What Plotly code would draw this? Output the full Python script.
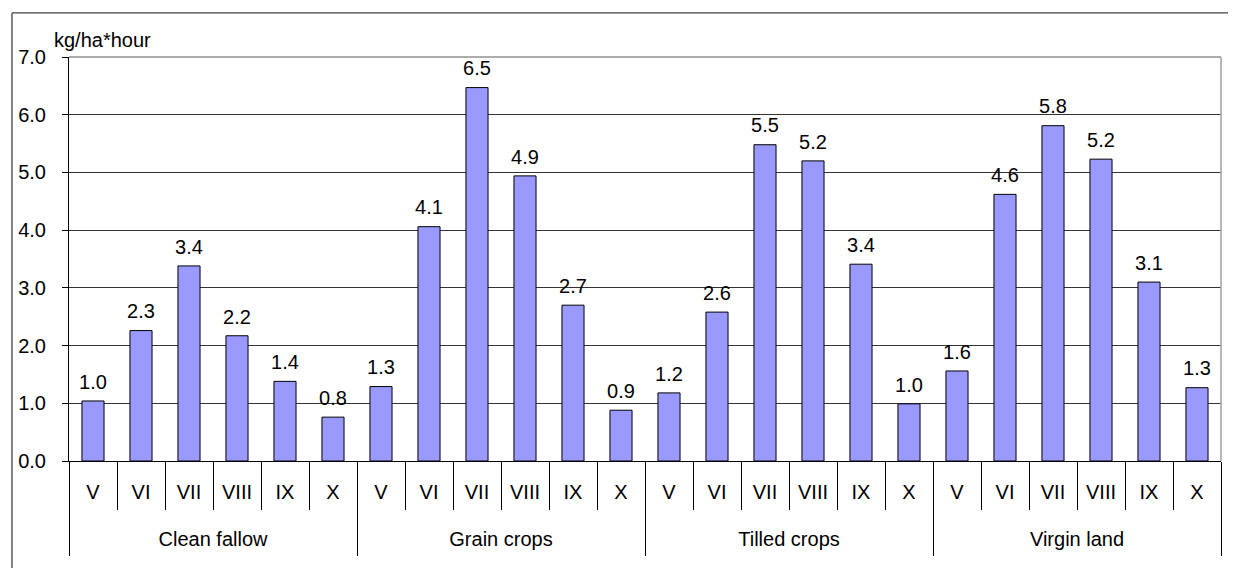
import plotly.graph_objects as go

groups = ["Clean fallow", "Grain crops", "Tilled crops", "Virgin land"]
months = ["V", "VI", "VII", "VIII", "IX", "X"]

clean_fallow = [1.04, 2.26, 3.38, 2.17, 1.38, 0.76]
grain_crops = [1.29, 4.06, 6.47, 4.94, 2.70, 0.88]
tilled_crops = [1.18, 2.58, 5.48, 5.20, 3.41, 0.99]
virgin_land = [1.56, 4.62, 5.81, 5.23, 3.10, 1.27]

y_ticks = [0, 1, 2, 3, 4, 5, 6, 7]
unit_label = "kg/ha*hour"

values = clean_fallow + grain_crops + tilled_crops + virgin_land
n_m = len(months)
xs = list(range(len(values)))
month_text = months * len(groups)
group_centers = [g * n_m + (n_m - 1) / 2 for g in range(len(groups))]
month_bounds = [i - 0.5 for i in range(len(values) + 1)]
group_bounds = [g * n_m - 0.5 for g in range(len(groups) + 1)]

FONT = "Liberation Sans, Arial, sans-serif"
FS = 20

fig = go.Figure()
fig.add_trace(go.Bar(
    x=xs, y=values, width=0.46,
    marker=dict(color="#9999FF", line=dict(color="#000000", width=1)),
    hoverinfo="skip", showlegend=False,
))
fig.add_trace(go.Scatter(
    x=xs, y=values, mode="markers+text",
    text=[f"{v:.1f}" for v in values], textposition="top center",
    textfont=dict(family=FONT, size=FS, color="#000000"),
    marker=dict(size=10, color="rgba(0,0,0,0)"),
    hoverinfo="skip", showlegend=False,
))
fig.add_trace(go.Scatter(
    x=group_centers, y=[None] * len(groups), xaxis="x2", mode="markers",
    hoverinfo="skip", showlegend=False,
))

fig.update_layout(
    width=1228, height=560,
    margin=dict(l=61, r=15, t=49, b=107),
    paper_bgcolor="white", plot_bgcolor="white",
    font=dict(family=FONT, size=FS, color="#000000"),
    bargap=0.54,
    xaxis=dict(
        range=[-0.5, len(values) - 0.5], automargin=False,
        tickmode="array", tickvals=xs, ticktext=month_text,
        ticks="", showgrid=False, zeroline=False,
        showline=True, linecolor="#000000", linewidth=1,
        ticklabelstandoff=13,
        tickfont=dict(family=FONT, size=FS),
        minor=dict(tickmode="array", tickvals=month_bounds, ticks="outside",
                   ticklen=48, tickcolor="#000000", tickwidth=1, showgrid=False),
    ),
    xaxis2=dict(
        overlaying="x", anchor="y", side="bottom", automargin=False,
        range=[-0.5, len(values) - 0.5],
        tickmode="array", tickvals=group_centers, ticktext=groups,
        ticks="", showgrid=False, zeroline=False, showline=False,
        ticklabelstandoff=64,
        tickfont=dict(family=FONT, size=FS),
        minor=dict(tickmode="array", tickvals=group_bounds, ticks="outside",
                   ticklen=94, tickcolor="#000000", tickwidth=1, showgrid=False),
    ),
    yaxis=dict(
        range=[0, 7], tickmode="array", tickvals=y_ticks, automargin=False,
        tickformat=".1f", ticks="outside", ticklen=6, tickcolor="#000000",
        showline=True, linecolor="#000000", linewidth=1,
        showgrid=True, gridcolor="#333333", gridwidth=1, zeroline=False,
        ticklabelstandoff=12, tickfont=dict(family=FONT, size=FS),
    ),
    annotations=[dict(
        text=unit_label, xref="paper", yref="paper", x=-0.015, y=1.042,
        xanchor="left", yanchor="middle", showarrow=False,
        font=dict(family=FONT, size=FS, color="#000000"),
    )],
    shapes=[
        dict(type="line", xref="paper", yref="paper", x0=-0.0495, x1=1.2,
             y0=1.109, y1=1.109, line=dict(color="#404040", width=1.3)),
        dict(type="line", xref="paper", yref="paper", x0=-0.0495, x1=-0.0495,
             y0=-0.3, y1=1.109, line=dict(color="#404040", width=1.3)),
        dict(type="line", xref="paper", yref="paper", x0=0, x1=1, y0=1, y1=1,
             line=dict(color="#909090", width=1.5)),
        dict(type="line", xref="paper", yref="paper", x0=1, x1=1, y0=0, y1=1,
             line=dict(color="#A0A0A0", width=1.5)),
    ],
)

fig.write_html("out.html")
